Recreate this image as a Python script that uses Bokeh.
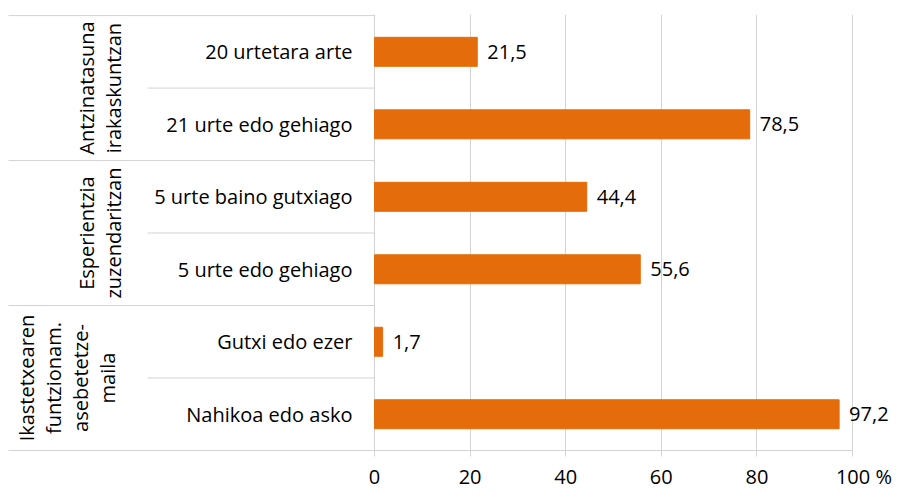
import math
from bokeh.plotting import figure
from bokeh.models import Range1d, FixedTicker
from bokeh.core.properties import value
from bokeh.embed import file_html
from bokeh.resources import INLINE

# ---- data ----
categories = ["20 urtetara arte", "21 urte edo gehiago",
              "5 urte baino gutxiago", "5 urte edo gehiago",
              "Gutxi edo ezer", "Nahikoa edo asko"]
values = [21.5, 78.5, 44.4, 55.6, 1.7, 97.2]
groups = ["Antzinatasuna\nirakaskuntzan",
          "Esperientzia\nzuzendaritzan",
          "Ikastetxearen\nfuntzionam.\nasebetetze-\nmaila"]
group_sizes = [2, 2, 2]
x_ticks = [0, 20, 40, 60, 80, 100]
x_tick_labels = ["0", "20", "40", "60", "80", "100 %"]
value_labels = [f"{v:.1f}".replace(".", ",") for v in values]

# ---- layout ----
W, H = 899, 492
PX = 4.78                 # pixels per percent
ZERO_PX = 374             # canvas x of value 0
x_start = -ZERO_PX / PX
x_end = (W - ZERO_PX) / PX
x_left = (8 - ZERO_PX) / PX
n = len(categories)
y_pos = [n - 0.5 - i for i in range(n)]

FONT = value("Open Sans")
FS = "20px"
BAR = "#E46C0A"
LINE = "#D3D3D3"

p = figure(width=W, height=H, output_backend="svg", toolbar_location=None,
           x_range=Range1d(x_start, x_end), y_range=Range1d(0, n + 0.015),
           y_axis_location=None, min_border_left=0, min_border_right=0,
           min_border_top=14, min_border_bottom=40)
p.outline_line_color = None
p.ygrid.visible = False
p.xgrid.ticker = FixedTicker(ticks=x_ticks)
p.xgrid.grid_line_color = LINE
p.xgrid.bounds = (0, 100)

ax = p.xaxis[0]
ax.ticker = FixedTicker(ticks=x_ticks)
ax.bounds = (x_left, 100)
ax.axis_line_color = LINE
ax.major_tick_line_color = LINE
ax.major_tick_out = 6
ax.major_tick_in = 0
ax.minor_tick_line_color = None
ax.major_label_text_font = "Open Sans"
ax.major_label_text_font_size = FS
ax.major_label_text_color = "black"
ax.major_label_standoff = 6
overrides = {t: l for t, l in zip(x_ticks, x_tick_labels)}
overrides[x_ticks[-1]] = "\u2007\u2007" + x_tick_labels[-1]
ax.major_label_overrides = overrides

# separators of the category axis
bounds_y = [n]
acc = n
for s in group_sizes:
    acc -= s
    bounds_y.append(acc)
p.segment(x0=[x_left] * len(bounds_y), x1=[0] * len(bounds_y),
          y0=bounds_y, y1=bounds_y, line_color=LINE, line_width=1)
sub_y = []
acc = n
for s in group_sizes:
    for k in range(1, s):
        sub_y.append(acc - k)
    acc -= s
sub_x0 = (147 - ZERO_PX) / PX
p.segment(x0=[sub_x0] * len(sub_y), x1=[0] * len(sub_y),
          y0=sub_y, y1=sub_y, line_color=LINE, line_width=1)

# bars
p.hbar(y=y_pos, left=0, right=values, height=0.4, color=BAR)

# value labels
p.text(x=values, y=y_pos, text=value_labels, x_offset=10,
       text_align="left", text_baseline="middle",
       text_font=FONT, text_font_size=FS, text_color="black")

# category labels
cat_x = (352 - ZERO_PX) / PX
p.text(x=[cat_x] * n, y=y_pos, text=categories,
       text_align="right", text_baseline="middle",
       text_font=FONT, text_font_size=FS, text_color="black")

# group labels
group_px = [99, 99, 66]
group_x = [(g - ZERO_PX) / PX for g in group_px]
gy = []
acc = n
for s in group_sizes:
    gy.append(acc - s / 2)
    acc -= s
p.text(x=group_x, y=gy, text=groups, angle=math.pi / 2,
       text_align="center", text_baseline="middle", text_line_height=1.0,
       text_font=FONT, text_font_size=FS, text_color="black")

open("out.html", "w").write(file_html(p, INLINE))
